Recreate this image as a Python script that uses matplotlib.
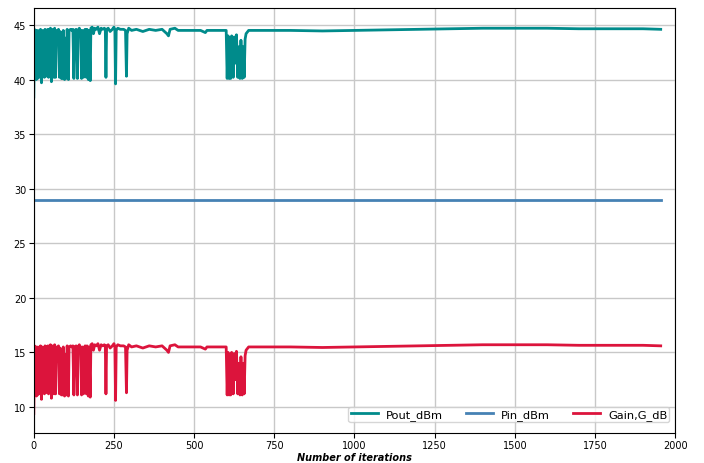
import matplotlib
matplotlib.use("Agg")
from matplotlib import pyplot as plt

# iteration index of each recorded point
iterations = [
    0, 2, 4, 6, 8, 10, 12, 14, 17, 19, 21, 24, 26, 30, 33, 35, 38, 40, 44, 46,
    48, 52, 55, 57, 60, 63, 65, 68, 70, 74, 77, 80, 82, 86, 88, 90, 92, 96, 98, 102,
    104, 108, 110, 115, 118, 122, 125, 127, 132, 136, 138, 142, 146, 149, 151, 155, 157, 160, 164, 166,
    170, 172, 176, 178, 182, 186, 190, 195, 200, 205, 210, 215, 220, 223, 225, 227, 232, 238, 245, 250,
    253, 255, 257, 262, 270, 280, 286, 289, 291, 296, 305, 320, 340, 360, 380, 400, 415, 420, 425, 440,
    450, 480, 520, 535, 540, 580, 600, 603, 606, 609, 611, 614, 617, 622, 625, 629, 632, 636, 639, 643,
    646, 650, 653, 656, 659, 662, 670, 700, 800, 900, 1000, 1100, 1200, 1300, 1400, 1500, 1600, 1700, 1800, 1900,
    1955,
]

pout_dbm = [
    38.4, 44.6, 40.3, 44.5, 40.0, 44.5, 40.1, 44.4, 44.5, 40.2, 44.6, 39.7, 44.5, 44.4, 40.2, 44.6, 40.3, 44.5, 44.6, 40.2,
    44.5, 44.7, 39.8, 44.6, 44.5, 40.2, 44.7, 40.2, 44.5, 43.2, 44.6, 40.2, 44.4, 40.1, 44.3, 40.1, 44.5, 40.0, 43.8, 40.1,
    44.6, 40.0, 44.5, 44.6, 44.5, 44.6, 40.1, 44.5, 44.6, 40.1, 44.5, 44.7, 44.4, 40.1, 44.5, 40.2, 44.4, 44.6, 40.2, 44.6,
    40.0, 44.5, 39.9, 44.7, 44.8, 44.2, 44.7, 44.6, 44.8, 44.2, 44.7, 44.6, 44.7, 44.6, 40.2, 44.6, 44.7, 44.4, 44.6, 44.8,
    44.5, 39.6, 44.5, 44.7, 44.6, 44.6, 44.5, 40.3, 44.2, 44.7, 44.5, 44.6, 44.4, 44.6, 44.5, 44.6, 44.2, 44.0, 44.6, 44.7,
    44.5, 44.5, 44.5, 44.3, 44.5, 44.5, 44.5, 40.1, 44.0, 40.1, 43.5, 40.1, 44.0, 40.2, 43.9, 41.5, 44.1, 40.2, 43.0, 40.1,
    43.6, 40.1, 43.0, 40.2, 43.7, 44.2, 44.5, 44.5, 44.5, 44.45, 44.5, 44.55, 44.6, 44.65, 44.7, 44.7, 44.7, 44.65, 44.65, 44.65,
    44.6,
]

gain_db = [
    9.4, 15.6, 11.3, 15.5, 11.0, 15.5, 11.1, 15.4, 15.5, 11.2, 15.6, 10.7, 15.5, 15.4, 11.2, 15.6, 11.3, 15.5, 15.6, 11.2,
    15.5, 15.7, 10.8, 15.6, 15.5, 11.2, 15.7, 11.2, 15.5, 14.2, 15.6, 11.2, 15.4, 11.1, 15.3, 11.1, 15.5, 11.0, 14.8, 11.1,
    15.6, 11.0, 15.5, 15.6, 15.5, 15.6, 11.1, 15.5, 15.6, 11.1, 15.5, 15.7, 15.4, 11.1, 15.5, 11.2, 15.4, 15.6, 11.2, 15.6,
    11.0, 15.5, 10.9, 15.7, 15.8, 15.2, 15.7, 15.6, 15.8, 15.2, 15.7, 15.6, 15.7, 15.6, 11.2, 15.6, 15.7, 15.4, 15.6, 15.8,
    15.5, 10.6, 15.5, 15.7, 15.6, 15.6, 15.5, 11.3, 15.2, 15.7, 15.5, 15.6, 15.4, 15.6, 15.5, 15.6, 15.2, 15.0, 15.6, 15.7,
    15.5, 15.5, 15.5, 15.3, 15.5, 15.5, 15.5, 11.1, 15.0, 11.1, 14.5, 11.1, 15.0, 11.2, 14.9, 12.5, 15.1, 11.2, 14.0, 11.1,
    14.6, 11.1, 14.0, 11.2, 14.7, 15.2, 15.5, 15.5, 15.5, 15.45, 15.5, 15.55, 15.6, 15.65, 15.7, 15.7, 15.7, 15.65, 15.65, 15.65,
    15.6,
]

pin_iterations = [0, 1955]
pin_dbm = [29.0, 29.0]


fig = plt.figure(figsize=(7.04, 4.64), dpi=100)
ax = fig.add_axes([0.048, 0.065, 0.911, 0.916])

ax.plot(iterations, pout_dbm, color="#008B8B", linewidth=2.0, label="Pout_dBm")
ax.plot(pin_iterations, pin_dbm, color="#4682B4", linewidth=2.0, label="Pin_dBm")
ax.plot(iterations, gain_db, color="#DC143C", linewidth=2.0, label="Gain,G_dB")

ax.set_xlim(0, 2000)
ax.set_xticks([0, 250, 500, 750, 1000, 1250, 1500, 1750, 2000])
ax.tick_params(labelsize=7, pad=2)
ax.grid(True, color="#c8c8c8", linewidth=1)
ax.set_axisbelow(True)
ax.set_xlabel("Number of iterations", fontsize=7, fontweight="bold", fontstyle="italic", labelpad=1)

ax.legend(loc="lower right", bbox_to_anchor=(1.0, 0.012), ncol=3, fontsize=8.2,
          handlelength=2.4, handletextpad=0.7, columnspacing=2.0,
          borderpad=0.2, labelspacing=0.2)

fig.savefig("out.png", dpi=100)
